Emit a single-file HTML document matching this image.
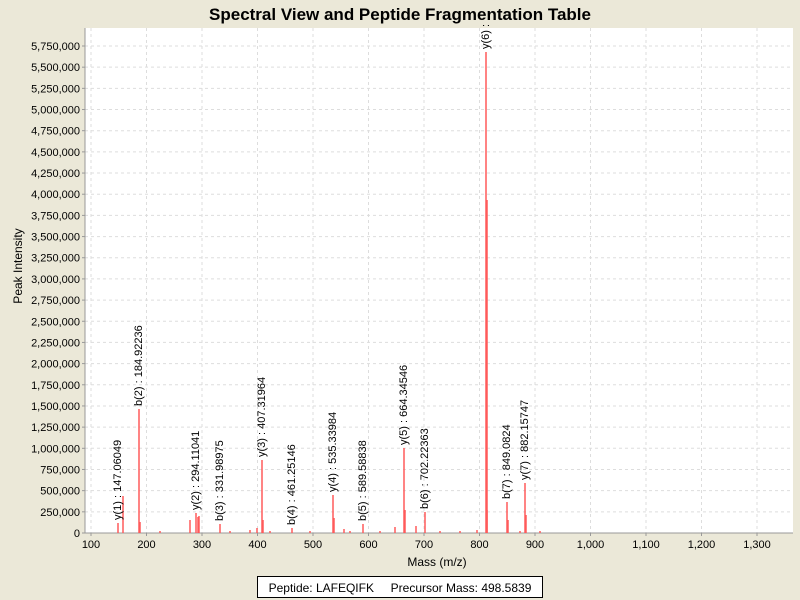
<!DOCTYPE html><html><head><style>body{margin:0;background:#ebe8d8}svg{display:block;font-family:"Liberation Sans",sans-serif}</style></head><body>
<svg width="800" height="600" viewBox="0 0 800 600">
<rect width="800" height="600" fill="#ebe8d8"/>
<text x="400" y="20" text-anchor="middle" font-size="17" font-weight="bold">Spectral View and Peptide Fragmentation Table</text>
<rect x="85" y="28" width="708" height="505" fill="#fff"/>
<g id="grid" stroke="#ddd" stroke-dasharray="3,3" stroke-width="1"></g>
<g id="ticks" font-size="11"></g>
<line x1="85" y1="28" x2="85" y2="533" stroke="#999"/>
<line x1="85" y1="533" x2="793" y2="533" stroke="#999"/>
<g id="peaks" stroke="#ff5a5a" stroke-width="1.5"></g>
<g id="labels" font-size="11"></g>
<text transform="translate(22,266) rotate(-90)" text-anchor="middle" font-size="12">Peak Intensity</text>
<text x="437" y="566" text-anchor="middle" font-size="12">Mass (m/z)</text>
<rect x="257.5" y="576.5" width="285" height="21" fill="#fff" stroke="#000"/>
<text x="400" y="592" text-anchor="middle" font-size="12" xml:space="preserve">Peptide: LAFEQIFK     Precursor Mass: 498.5839</text>
<script>
const ns="http://www.w3.org/2000/svg";
function el(p,t,a,txt){const e=document.createElementNS(ns,t);for(const k in a)e.setAttribute(k,a[k]);if(txt)e.textContent=txt;document.getElementById(p).appendChild(e);}
for(let i=0;i<=23;i++){const y=533-i*487/23;if(i>0)el("grid","line",{x1:85,x2:793,y1:y,y2:y});
el("ticks","line",{x1:82,x2:85,y1:y,y2:y,stroke:"#999"});
el("ticks","text",{x:80,y:y+4,"text-anchor":"end"},(i*250000).toLocaleString("en-US"));}
for(let m=100;m<=1300;m+=100){const x=91+(m-100)*0.555;el("grid","line",{x1:x,x2:x,y1:28,y2:533});
el("ticks","line",{x1:x,x2:x,y1:533,y2:536,stroke:"#999"});
el("ticks","text",{x:x,y:548,"text-anchor":"middle"},m.toLocaleString("en-US"));}
const pk=[[118,523],[123,496],[139,409],[140,522],[190,520],[196,513],[198,517],[199,516],[220,524],[257,528],[262,460],[263,520],[292,528],[333,495],[334,518],[344,529],[363,524],[395,527],[404,448],[405,510],[416,526],[425,512],[477,530],[486,52],[487,200],[487,510],[507,502],[508,520],[525,483],[526,515],[160,531],[230,531],[250,530],[270,531],[310,531],[350,531],[380,531],[440,531],[460,531],[520,531],[540,531]];
pk.forEach(p=>el("peaks","line",{x1:p[0],x2:p[0],y1:533,y2:p[1]}));
const lb=[[118,523,"y(1) : 147.06049"],[139,409,"b(2) : 184.92236"],[196,513,"y(2) : 294.11041"],[220,524,"b(3) : 331.98975"],[262,460,"y(3) : 407.31964"],[292,528,"b(4) : 461.25146"],[333,495,"y(4) : 535.33984"],[363,524,"b(5) : 589.58838"],[404,448,"y(5) : 664.34546"],[425,512,"b(6) : 702.22363"],[486,52,"y(6) :"],[507,502,"b(7) : 849.0824"],[525,483,"y(7) : 882.15747"]];
lb.forEach(l=>el("labels","text",{transform:`translate(${l[0]+3},${l[1]-3}) rotate(-90)`},l[2]));
</script>
</svg></body></html>
